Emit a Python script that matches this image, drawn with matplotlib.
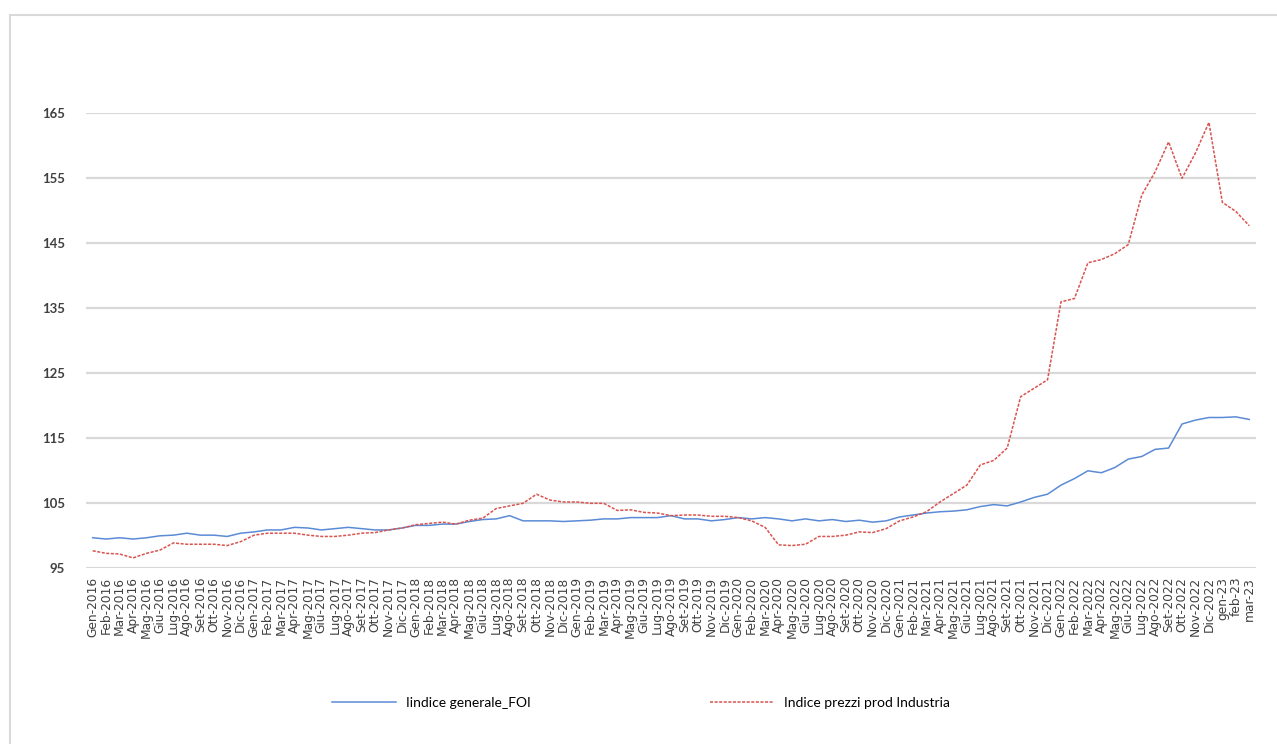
import matplotlib
matplotlib.use("Agg")
import matplotlib.pyplot as plt
from matplotlib.patches import Rectangle


# month labels on the x axis
mesi = ["Gen", "Feb", "Mar", "Apr", "Mag", "Giu", "Lug", "Ago", "Set", "Ott", "Nov", "Dic"]
labels = [f"{m}-{y}" for y in range(2016, 2023) for m in mesi]
labels += ["gen-23", "feb-23", "mar-23"]

# Iindice generale_FOI
foi = [
    99.7, 99.5, 99.7, 99.5, 99.7, 100.0, 100.1, 100.4, 100.1, 100.1, 99.9, 100.4,
    100.6, 100.9, 100.9, 101.3, 101.2, 100.9, 101.1, 101.3, 101.1, 100.9, 100.9, 101.2,
    101.6, 101.6, 101.8, 101.8, 102.2, 102.5, 102.6, 103.1, 102.3, 102.3, 102.3, 102.2,
    102.3, 102.4, 102.6, 102.6, 102.8, 102.8, 102.8, 103.1, 102.6, 102.6, 102.3, 102.5,
    102.8, 102.6, 102.8, 102.6, 102.3, 102.6, 102.3, 102.5, 102.2, 102.4, 102.1, 102.3,
    102.9, 103.2, 103.5, 103.7, 103.8, 104.0, 104.5, 104.8, 104.6, 105.2, 105.9, 106.4,
    107.8, 108.8, 110.0, 109.7, 110.5, 111.8, 112.2, 113.3, 113.5, 117.2, 117.8, 118.2,
    118.2, 118.3, 117.9,
]

# Indice prezzi prod Industria
ppi = [
    97.7, 97.3, 97.2, 96.6, 97.3, 97.8, 98.9, 98.7, 98.7, 98.7, 98.5, 99.1,
    100.1, 100.4, 100.4, 100.4, 100.1, 99.9, 99.9, 100.1, 100.4, 100.5, 100.9, 101.2,
    101.7, 101.9, 102.1, 101.8, 102.4, 102.7, 104.2, 104.6, 105.0, 106.4, 105.5, 105.2,
    105.2, 105.0, 105.0, 103.9, 104.0, 103.6, 103.5, 103.1, 103.2, 103.2, 103.0, 103.0,
    102.8, 102.3, 101.3, 98.6, 98.5, 98.7, 99.9, 99.9, 100.1, 100.6, 100.5, 101.1,
    102.3, 102.9, 103.7, 105.2, 106.5, 107.8, 110.9, 111.6, 113.5, 121.4, 122.7, 124.0,
    136.0, 136.5, 142.0, 142.5, 143.4, 144.8, 152.4, 156.0, 160.6, 155.0, 158.9, 163.6,
    151.3, 149.9, 147.7,
]

yticks = [95, 105, 115, 125, 135, 145, 155, 165]

W, H = 1277, 744
fig = plt.figure(figsize=(W / 100, H / 100), dpi=100)

# light frame round the chart (runs off the right and bottom edge)
fig.patches.append(Rectangle((10 / W, -0.05), 1.2, 1 - 15 / H + 0.05,
                             transform=fig.transFigure, fill=False,
                             edgecolor="#d9d9d9", linewidth=1.5))

ax = fig.add_axes([86 / W, 1 - 568.3 / H, (1256 - 86) / W, (568.3 - 113.3) / H])

x = list(range(len(labels)))
ax.plot(x, foi, color="#5b8bd6", linewidth=1.1, label="Iindice generale_FOI")
ax.plot(x, ppi, color="#d9534f", linewidth=1.1, linestyle=(0, (2, 1)),
        label="Indice prezzi prod Industria")

ax.set_xlim(-0.5, len(labels) - 0.5)
ax.set_ylim(95, 165)
ax.set_yticks(yticks)
ax.set_yticklabels([str(v) for v in yticks], fontsize=9.5, fontweight="bold",
                   color="#404040", family="Lato")
ax.set_xticks(x)
ax.set_xticklabels(labels, rotation=90, fontsize=8.8, color="#404040")
ax.tick_params(length=0)
ax.tick_params(axis="y", pad=15)
ax.tick_params(axis="x", pad=6)

ax.grid(axis="y", color="#d9d9d9", linewidth=1.6)
ax.set_axisbelow(True)
for s in ax.spines.values():
    s.set_visible(False)

fig.legend(loc="center", bbox_to_anchor=(641 / W, 1 - 703 / H), ncol=2,
           frameon=False, handlelength=4.6, handletextpad=0.7,
           columnspacing=12.9, prop={"family": "Lato", "size": 10})

fig.savefig("out.png", dpi=100)
